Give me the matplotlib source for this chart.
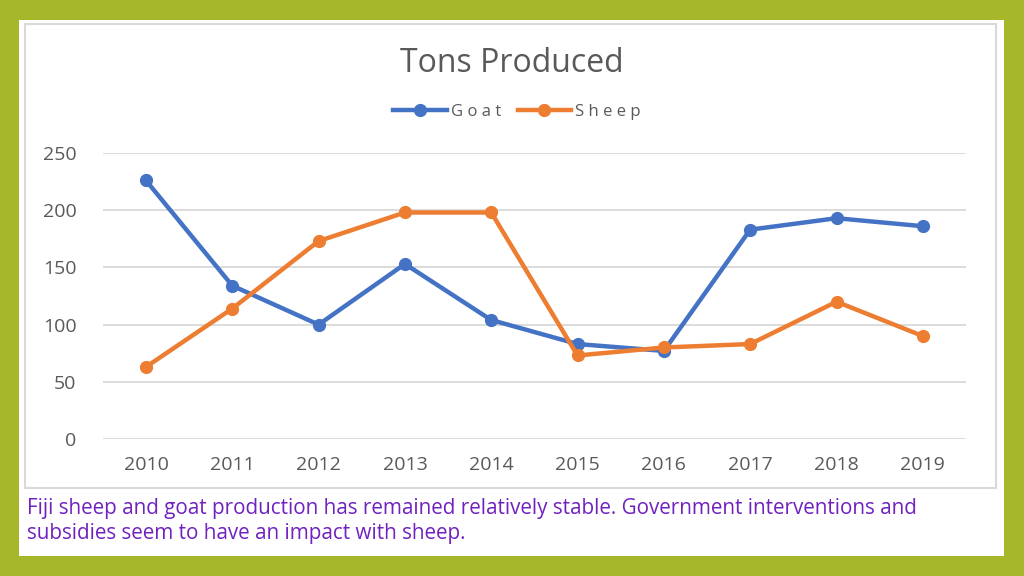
import matplotlib
matplotlib.use("Agg")
import matplotlib.pyplot as plt
from matplotlib.patches import Rectangle
from matplotlib.lines import Line2D

years = ["2010", "2011", "2012", "2013", "2014", "2015", "2016", "2017", "2018", "2019"]
goat = [226, 134, 100, 153, 104, 83, 77, 183, 193, 186]
sheep = [63, 114, 173, 198, 198, 73, 80, 83, 120, 90]
yticks = [0, 50, 100, 150, 200, 250]
title = "Tons Produced"
caption = ("Fiji sheep and goat production has remained relatively stable. Government interventions and\n"
           "subsidies seem to have an impact with sheep.")

GOAT_C = "#4472C4"
SHEEP_C = "#ED7D31"
W, H = 1024, 576

plt.rcParams['font.family'] = ['Open Sans', 'DejaVu Sans']

fig = plt.figure(figsize=(W / 100, H / 100), dpi=100)
fig.patch.set_facecolor("#A6B82A")

def fx(px):
    return px / W

def fy(py):
    return 1 - py / H

# white slide area
fig.patches.append(Rectangle((fx(19), fy(556)), fx(1004) - fx(19), fy(20) - fy(556),
                             transform=fig.transFigure, facecolor="white", edgecolor="none", zorder=0))
# chart box
fig.patches.append(Rectangle((fx(25), fy(488)), fx(996) - fx(25), fy(24) - fy(488),
                             transform=fig.transFigure, facecolor="white", edgecolor="#D9D9D9",
                             linewidth=1.5, zorder=0.5))

left, right, top, bottom = 102.8, 966, 153, 439
ax = fig.add_axes([fx(left), fy(bottom), fx(right) - fx(left), fy(top) - fy(bottom)])
ax.set_zorder(2)
ax.set_facecolor("none")
x = list(range(len(years)))
ax.plot(x, goat, color=GOAT_C, linewidth=3.2, marker="o", markersize=8.5, label="Goat",
        solid_capstyle="round", zorder=3)
ax.plot(x, sheep, color=SHEEP_C, linewidth=3.2, marker="o", markersize=8.5, label="Sheep",
        solid_capstyle="round", zorder=4)
ax.set_xlim(-0.5, len(years) - 0.5)
ax.set_ylim(0, 250)
ax.set_yticks(yticks)
ax.set_xticks(x)
ax.set_xticklabels(years)
for s in ax.spines.values():
    s.set_visible(False)
ax.grid(axis="y", color="#D9D9D9", linewidth=1.3, zorder=0)
ax.set_axisbelow(True)
ax.tick_params(axis="both", length=0, labelsize=14, labelcolor="#595959")
ax.tick_params(axis="y", pad=19)
ax.tick_params(axis="x", pad=12)

fig.text(0.5, fy(63), title, ha="center", va="center", fontsize=23, color="#595959")

handles = [Line2D([], [], color=GOAT_C, linewidth=3.2, marker="o", markersize=8.5),
           Line2D([], [], color=SHEEP_C, linewidth=3.2, marker="o", markersize=8.5)]
leg = fig.legend(handles, ["G o a t", "S h e e p"], loc="center", bbox_to_anchor=(fx(517), fy(112)),
                 ncol=2, frameon=False, fontsize=12, labelcolor="#595959", handlelength=3.2,
                 handletextpad=0.25, columnspacing=1.0)

fig.text(fx(27), fy(521), caption, ha="left", va="center", fontsize=14.9, color="#7022C0",
         linespacing=1.3)

fig.savefig("out.png", dpi=100)
